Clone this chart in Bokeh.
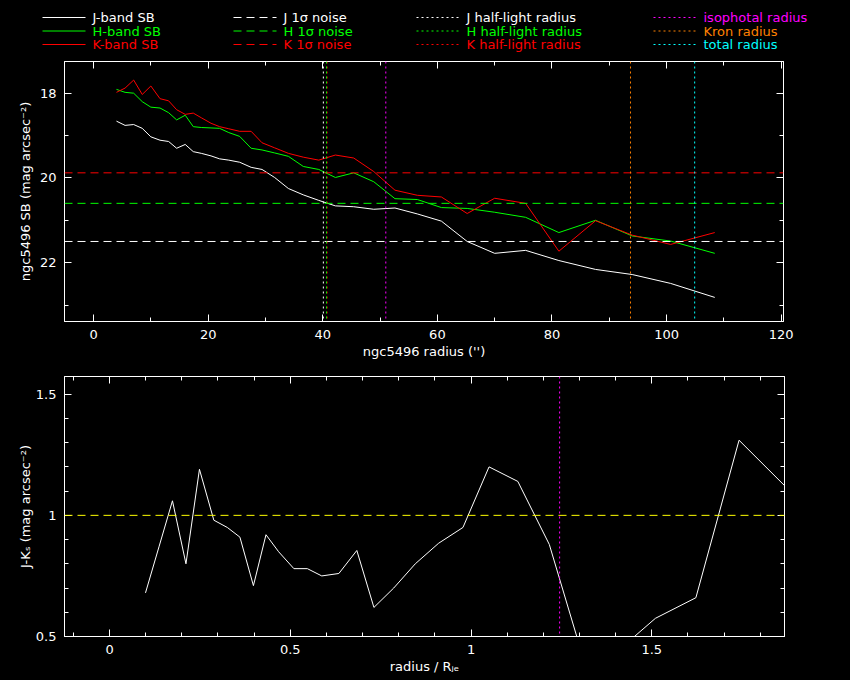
from bokeh.plotting import figure
from bokeh.models import (Range1d, LinearAxis, SingleIntervalTicker, CustomJSTickFormatter,
                          Span, ColumnDataSource)
from bokeh.core.properties import value
from bokeh.layouts import column
from bokeh.embed import file_html
from bokeh.resources import INLINE

# ---------------- data ----------------
radius = [4.0, 5.5, 7.0, 8.5, 10.0, 11.6, 13.1, 14.5, 16.0, 17.4, 18.8, 20.5, 22.0, 23.6,
          25.5, 27.5, 29.4, 31.6, 34.0, 36.6, 39.3, 42.2, 45.4, 48.9, 52.6, 56.5, 60.7,
          65.2, 70.0, 75.4, 81.2, 87.6, 94.0, 100.7, 108.4]
sb_j = [18.66, 18.76, 18.74, 18.83, 19.03, 19.11, 19.14, 19.30, 19.21, 19.38, 19.42, 19.48,
        19.55, 19.58, 19.63, 19.75, 19.80, 19.99, 20.25, 20.40, 20.53, 20.66, 20.68, 20.74,
        20.71, 20.85, 21.02, 21.50, 21.78, 21.71, 21.95, 22.16, 22.28, 22.49, 22.82]
sb_h = [17.91, 17.98, 18.00, 18.20, 18.33, 18.35, 18.46, 18.63, 18.52, 18.79, 18.81, 18.82,
        18.83, 18.93, 19.02, 19.30, 19.34, 19.41, 19.49, 19.73, 19.80, 19.99, 19.88, 20.09,
        20.49, 20.51, 20.70, 20.72, 20.81, 20.93, 21.29, 21.00, 21.37, 21.49, 21.78]
sb_k = [17.98, 17.88, 17.69, 18.03, 17.83, 18.13, 18.18, 18.39, 18.50, 18.47, 18.58, 18.71,
        18.79, 18.84, 18.90, 18.90, 19.17, 19.29, 19.42, 19.51, 19.58, 19.46, 19.53, 19.85,
        20.29, 20.41, 20.45, 20.84, 20.48, 20.60, 21.73, 21.01, 21.35, 21.57, 21.29]
jk_color = [0.68, 0.87, 1.06, 0.80, 1.19, 0.98, 0.95, 0.91, 0.71, 0.92, 0.85, 0.78, 0.78,
            0.75, 0.76, 0.855, 0.62, 0.70, 0.80, 0.885, 0.95, 1.20, 1.14, 0.88, 0.42, 0.44,
            0.575, 0.66, 1.31, 1.11, 0.22, 1.15, 0.93, 0.92, 1.53]
R_JE = 40.2

noise_levels = {"J": 21.5, "H": 20.6, "K": 19.88}
half_light = {"J": 40.1, "H": 40.65, "K": 40.75}
r_iso, r_kron, r_total = 51.0, 93.7, 104.9
jk_reference = 1.0
jk_marker = 1.245

legend_labels = ["J-band SB", "H-band SB", "K-band SB",
                 "J 1σ noise", "H 1σ noise", "K 1σ noise",
                 "J half-light radius", "H half-light radius", "K half-light radius",
                 "isophotal radius", "Kron radius", "total radius"]

band_colors = {"J": "#ffffff", "H": "#00ff00", "K": "#ff0000"}
ISO_C, KRON_C, TOT_C, YEL = "#ff00ff", "#ff8000", "#00ffff", "#ffff00"

FONT = "DejaVu Sans"
FS = "13px"
DASH = "8 5"
DOT = "2 3"

fmt = CustomJSTickFormatter(code="return String(parseFloat(tick.toFixed(3)));")


def style(p, xint, xminor, yint, yminor, xlabel, ylabel, ystand):
    p.xaxis.visible = False
    p.yaxis.visible = False
    for loc, interval, nminor, lab in (("below", xint, xminor, xlabel), ("left", yint, yminor, ylabel),
                                       ("above", xint, xminor, None), ("right", yint, yminor, None)):
        ax = LinearAxis(ticker=SingleIntervalTicker(interval=interval, num_minor_ticks=nminor),
                        formatter=fmt)
        ax.axis_line_color = "white"
        ax.major_tick_line_color = "white"
        ax.minor_tick_line_color = "white"
        ax.major_tick_in = 7
        ax.major_tick_out = 0
        ax.minor_tick_in = 4
        ax.minor_tick_out = 0
        if lab is None:
            ax.major_label_text_font_size = "0px"
            ax.major_label_text_alpha = 0
        else:
            ax.axis_label = lab
            ax.axis_label_text_color = "white"
            ax.axis_label_text_font = FONT
            ax.axis_label_text_font_size = FS
            ax.axis_label_text_font_style = "normal"
            ax.major_label_text_color = "white"
            ax.major_label_text_font = FONT
            ax.major_label_text_font_size = FS
            ax.major_label_standoff = 8
            ax.axis_label_standoff = ystand if loc == "left" else 2
        p.add_layout(ax, loc)
    p.grid.visible = False


common = dict(output_backend="svg", toolbar_location=None, background_fill_color="black",
              border_fill_color="black", outline_line_color="white")

# ---------------- legend strip (page pixel coordinates) ----------------
W = 842
lf = figure(frame_width=W, frame_height=53, min_border=0, x_range=Range1d(0, W),
            y_range=Range1d(53, 0), x_axis_type=None, y_axis_type=None,
            output_backend="svg", toolbar_location=None, background_fill_color="black",
            border_fill_color="black", outline_line_color=None)
lf.grid.visible = False
lf.frame_align = False

col_line_x = [42, 233, 416, 653]
col_text_x = [92, 283, 466, 703]
row_y = [17, 30.5, 44]
legend_colors = [band_colors["J"], band_colors["H"], band_colors["K"]] * 3 + [ISO_C, KRON_C, TOT_C]
legend_dashes = ["solid"] * 3 + [DASH] * 3 + [DOT] * 6

for dash in ("solid", DASH, DOT):
    idx = [i for i in range(12) if legend_dashes[i] == dash]
    src = ColumnDataSource(dict(
        x0=[col_line_x[i // 3] for i in idx], x1=[col_line_x[i // 3] + 43 for i in idx],
        y=[row_y[i % 3] for i in idx], c=[legend_colors[i] for i in idx]))
    lf.segment(x0="x0", y0="y", x1="x1", y1="y", line_color="c", line_dash=dash,
               line_width=1, source=src)

tsrc = ColumnDataSource(dict(x=[col_text_x[i // 3] for i in range(12)],
                             y=[row_y[i % 3] for i in range(12)],
                             t=legend_labels, c=legend_colors))
lf.text(x="x", y="y", text="t", text_color="c", text_font=value(FONT),
        text_font_size=value(FS), text_baseline="middle", text_align="left", source=tsrc)

# ---------------- top panel ----------------
p1 = figure(frame_width=719, frame_height=260, min_border_left=64, min_border_right=W - 64 - 719,
            min_border_top=8, min_border_bottom=45,
            x_range=Range1d(-5.07, 120.4), y_range=Range1d(23.389, 17.252), **common)
style(p1, 20, 2, 2, 2, "ngc5496 radius ('')", "ngc5496 SB (mag arcsec⁻²)", 4)

for b in ("J", "H", "K"):
    p1.add_layout(Span(location=noise_levels[b], dimension="width", line_color=band_colors[b],
                       line_dash=DASH, line_width=1))
for b in ("J", "K", "H"):
    p1.add_layout(Span(location=half_light[b], dimension="height", line_color=band_colors[b],
                       line_dash=DOT, line_width=1))
p1.add_layout(Span(location=r_iso, dimension="height", line_color=ISO_C, line_dash=DOT, line_width=1))
p1.add_layout(Span(location=r_kron, dimension="height", line_color=KRON_C, line_dash=DOT, line_width=1))
p1.add_layout(Span(location=r_total, dimension="height", line_color=TOT_C, line_dash=DOT, line_width=1))

p1.line(radius, sb_j, line_color=band_colors["J"], line_width=1)
p1.line(radius, sb_h, line_color=band_colors["H"], line_width=1)
p1.line(radius, sb_k, line_color=band_colors["K"], line_width=1)

# ---------------- bottom panel ----------------
p2 = figure(frame_width=720, frame_height=260, min_border_left=64, min_border_right=W - 64 - 720,
            min_border_top=10, min_border_bottom=34,
            x_range=Range1d(-0.1245, 1.867), y_range=Range1d(0.5, 1.573), **common)
style(p2, 0.5, 5, 0.5, 5, "radius / Rⱼₑ", "J-Kₛ (mag arcsec⁻²)", 0)

p2.add_layout(Span(location=jk_reference, dimension="width", line_color=YEL, line_dash=DASH, line_width=1))
p2.add_layout(Span(location=jk_marker, dimension="height", line_color=ISO_C, line_dash=DOT, line_width=1))
scaled_radius = [r / R_JE for r in radius]
p2.line(scaled_radius, jk_color, line_color="white", line_width=1)

layout = column(lf, p1, p2)
html = file_html(layout, INLINE)
html = html.replace("</head>", "<style>html,body{background:#000000;}</style></head>", 1)
open("out.html", "w", encoding="utf-8").write(html)
